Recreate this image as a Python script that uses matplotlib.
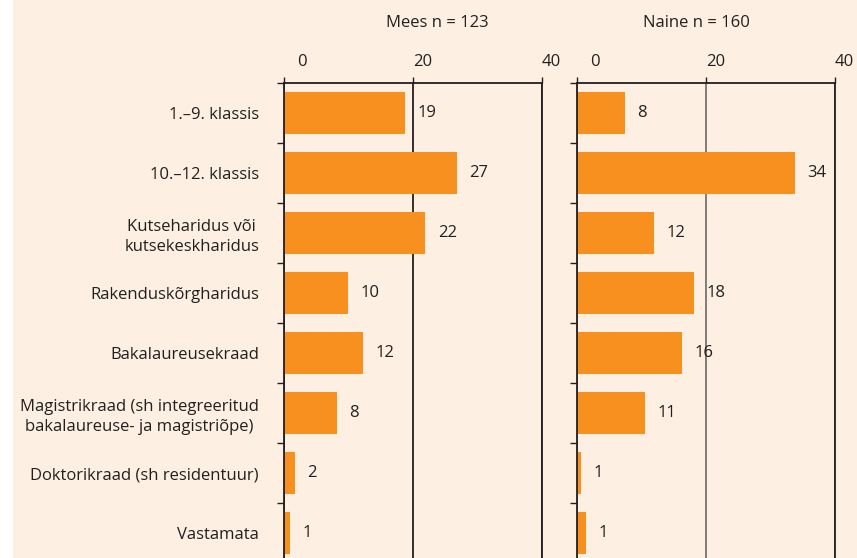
import matplotlib.pyplot as plt
import matplotlib.transforms as mtransforms
from matplotlib.patches import Rectangle

categories = [
    "1.\u20139. klassis",
    "10.\u201312. klassis",
    "Kutseharidus või\nkutsekeskharidus",
    "Rakenduskõrgharidus",
    "Bakalaureusekraad",
    "Magistrikraad (sh integreeritud\nbakalaureuse- ja magistriõpe)",
    "Doktorikraad (sh residentuur)",
    "Vastamata",
]
mees = [18.8, 26.8, 21.9, 9.9, 12.2, 8.2, 1.7, 0.9]
mees_labels = ["19", "27", "22", "10", "12", "8", "2", "1"]
naine = [7.4, 33.8, 11.9, 18.1, 16.3, 10.5, 0.6, 1.4]
naine_labels = ["8", "34", "12", "18", "16", "11", "1", "1"]
titles = ["Mees n = 123", "Naine n = 160"]
xticks = [0, 20, 40]

BG = "#FDF0E2"
ORANGE = "#F7901E"
DARK = "#231F20"
FS = 12

plt.rcParams["font.family"] = ["Open Sans", "DejaVu Sans"]

W, H = 857, 558
fig = plt.figure(figsize=(W / 100, H / 100), dpi=100)
fig.patch.set_facecolor("white")
fig.patches.append(Rectangle((13 / W, 0), 1, 1, transform=fig.transFigure,
                             facecolor=BG, edgecolor="none", zorder=-10))

# axes boxes in pixels: left edge, top 83, rows 60 px tall
ax_h = 480 / H
ax_b = 1 - 83 / H - ax_h
panels = [
    (284, mees, mees_labels, titles[0], 437, DARK),
    (577, naine, naine_labels, titles[1], 696, "#7A7270"),
]

ypos = list(range(len(categories)))
for i, (left, vals, labels, title, title_x, grid_col) in enumerate(panels):
    ax = fig.add_axes([left / W, ax_b, 258 / W, ax_h])
    ax.set_facecolor("none")
    ax.barh(ypos, vals, height=0.7, color=ORANGE, zorder=2)

    ax.set_xlim(0, 40)
    ax.set_ylim(len(categories) - 0.5, -0.5)

    ax.spines["bottom"].set_visible(False)
    for side in ["left", "top", "right"]:
        ax.spines[side].set_color(DARK)
        ax.spines[side].set_linewidth(1.3)

    # x axis on top
    ax.set_xticks(xticks)
    ax.xaxis.set_ticks_position("top")
    ax.tick_params(axis="x", direction="out", length=4, width=1, color=DARK,
                   labelsize=FS, labelcolor=DARK, pad=5)
    ax.grid(axis="x", color=grid_col, linewidth=1.3, zorder=1)
    ax.set_axisbelow(True)
    for j, tick in enumerate(ax.xaxis.get_major_ticks()):
        tick.label2.set_horizontalalignment("left")
        if j == 0:
            tick.label2.set_transform(tick.label2.get_transform() +
                                      mtransforms.ScaledTranslation(0.13, 0, fig.dpi_scale_trans))

    # y axis: ticks at row boundaries, labels at centres
    ax.set_yticks(ypos)
    ax.set_yticks([y - 0.5 for y in ypos] + [len(ypos) - 0.5], minor=True)
    ax.tick_params(axis="y", which="major", length=0, pad=18, labelsize=FS, labelcolor=DARK)
    ax.tick_params(axis="y", which="minor", length=5, width=1, color=DARK, direction="out")
    if i == 0:
        ax.set_yticklabels(categories, ma="center", linespacing=1.35)
    else:
        ax.set_yticklabels([])

    for y, v, lab in zip(ypos, vals, labels):
        ax.annotate(lab, (v, y), xytext=(9, 0), textcoords="offset points",
                    ha="left", va="center", fontsize=FS, color=DARK)

    fig.text(title_x / W, 1 - 23 / H, title, ha="center", va="center",
             fontsize=FS, color=DARK)

fig.savefig("out.png", dpi=100, facecolor=fig.get_facecolor())
